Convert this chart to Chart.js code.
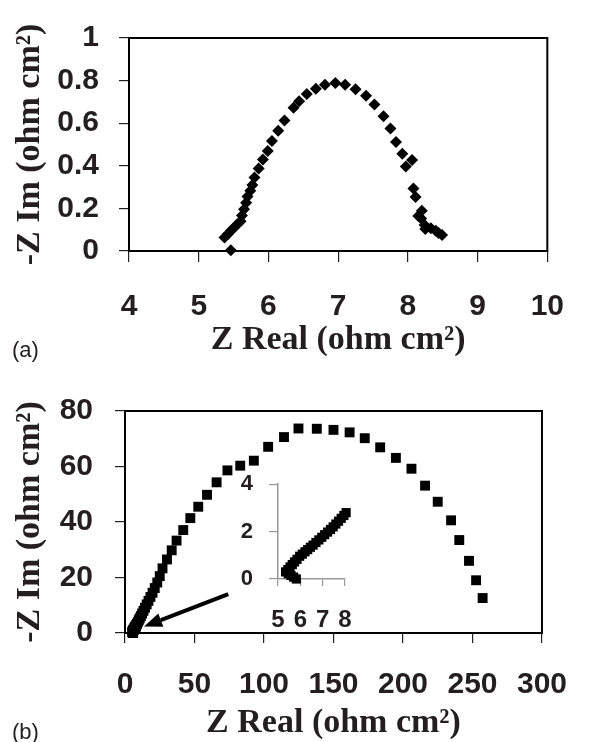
<!DOCTYPE html>
<html>
<head>
<meta charset="utf-8">
<script src="https://cdn.jsdelivr.net/npm/chart.js@4.4.1/dist/chart.umd.min.js"></script>
<style>
body { margin: 0; background: #fff; }
#wrap { position: relative; width: 591px; height: 742px; overflow: hidden; }
canvas { position: absolute; }
.tag { position: absolute; font-family: "Liberation Sans", Arial, sans-serif; font-size: 22px; line-height: 25px; color: #231f20; }
</style>
</head>
<body>
<div id="wrap">
  <canvas id="chartA" width="591" height="371" style="left:0;top:0"></canvas>
  <canvas id="chartB" width="591" height="371" style="left:0;top:371px"></canvas>
  <canvas id="inset" width="180" height="195" style="left:200px;top:455px"></canvas>
  <div class="tag" style="left:12px;top:337px">(a)</div>
  <div class="tag" style="left:12px;top:719px">(b)</div>
</div>
<script>
// (a) Nyquist points, Z real / -Z im (ohm cm2)
const aRe = [5.46, 5.37, 5.42, 5.46, 5.51, 5.55, 5.60, 5.62, 5.65, 5.68, 5.70, 5.74, 5.77, 5.80, 5.86, 5.92,
  5.99, 6.05, 6.14, 6.23, 6.36, 6.44, 6.55, 6.68, 6.81, 6.96, 7.10, 7.25, 7.40, 7.52, 7.65, 7.75,
  7.83, 7.92, 7.97, 8.06, 8.08, 8.11, 8.20, 8.15, 8.19, 8.24, 8.25, 8.33, 8.40, 8.44, 8.49];
const aIm = [0.003, 0.063, 0.08, 0.095, 0.11, 0.125, 0.14, 0.167, 0.196, 0.226, 0.256, 0.283, 0.31, 0.345, 0.387, 0.43,
  0.47, 0.517, 0.564, 0.613, 0.673, 0.703, 0.737, 0.762, 0.781, 0.789, 0.78, 0.759, 0.729, 0.688, 0.633, 0.575,
  0.512, 0.457, 0.397, 0.427, 0.293, 0.253, 0.189, 0.164, 0.152, 0.122, 0.103, 0.107, 0.095, 0.085, 0.075];

// (b) Nyquist points (the first ones are the ones seen in the inset)
const bRe = [5.82, 5.70, 5.58, 5.46, 5.34, 5.44, 5.54, 5.64, 5.74, 5.85, 5.97, 6.09, 6.21, 6.33, 6.45, 6.57,
  6.70, 6.83, 6.96, 7.09, 7.22, 7.35, 7.47, 7.59, 7.71, 7.83, 7.95, 8.05,
  8.6, 9.2, 9.9, 10.6, 11.4, 12.3, 13.3, 14.4, 15.6, 16.9, 18.3, 19.8, 21.4, 23.2, 25.0, 27.0,
  30.2, 33.6, 37.1, 41.9, 47.0, 52.7, 59.0, 65.9, 73.7, 82.9, 92.7, 103.0, 114.4, 124.8, 138.0, 150.0,
  161.6, 172.5, 183.6, 194.9, 206.1, 215.9, 225.0, 234.6, 240.5, 247.5, 252.6, 257.3];
const bIm = [0.0, 0.08, 0.15, 0.22, 0.30, 0.40, 0.51, 0.61, 0.72, 0.83, 0.96, 1.05, 1.15, 1.24, 1.34, 1.43,
  1.54, 1.65, 1.76, 1.87, 1.98, 2.09, 2.2, 2.32, 2.44, 2.56, 2.68, 2.8,
  3.3, 3.9, 4.6, 5.3, 6.1, 7.0, 8.0, 9.1, 10.3, 11.6, 13.0, 14.5, 16.2, 18.2, 20.5, 23.3,
  26.5, 29.8, 33.3, 37.1, 41.4, 45.5, 49.8, 54.3, 58.6, 60.3, 62.1, 67.1, 70.6, 73.7, 73.6, 73.2,
  72.3, 70.2, 66.9, 63.1, 59.2, 53.1, 47.3, 40.6, 33.5, 26.0, 19.0, 12.6];

// tick labels
const aXTicks = [4, 5, 6, 7, 8, 9, 10];
const aYTicks = [0, 0.2, 0.4, 0.6, 0.8, 1];
const bXTicks = [0, 50, 100, 150, 200, 250, 300];
const bYTicks = [0, 20, 40, 60, 80];
const inXTicks = [5, 6, 7, 8];
const inYTicks = [0, 2, 4];

// arrow from inset to the origin blob, in (b) data units
const arrowFrom = [74.3, 14.0];
const arrowTo = [13.7, 2.3];

const ink = '#231f20';
const sans = '"Liberation Sans", Arial, sans-serif';
const serif = '"Liberation Serif", "Times New Roman", serif';

function pts(xs, ys) {
  return xs.map((x, i) => ({ x: x, y: ys[i] }));
}

function axis(ticks, o) {
  return {
    type: 'linear',
    min: ticks[0],
    max: ticks[ticks.length - 1],
    afterBuildTicks: s => { s.ticks = ticks.map(v => ({ value: v })); },
    afterFit: s => {
      if (o.w != null) s.width = o.w;
      if (o.h != null) s.height = o.h;
    },
    grid: { display: true, drawOnChartArea: false, drawTicks: true, tickLength: o.tl, color: o.c, lineWidth: 1.2 },
    border: { display: !!o.border, color: o.c, width: 1.5 },
    ticks: {
      padding: o.pad, color: ink, autoSkip: false, maxRotation: 0,
      font: { family: sans, size: o.fs, weight: 'bold' },
      callback: v => String(v)
    },
    title: o.title ? {
      display: true, text: o.title, color: ink,
      font: { family: serif, size: 34, weight: 'bold', lineHeight: 1.1 },
      padding: o.tp
    } : { display: false }
  };
}

const boxPlugin = {
  id: 'box',
  beforeDatasetsDraw(chart) {
    const a = chart.chartArea, ctx = chart.ctx;
    ctx.save();
    ctx.strokeStyle = '#000';
    ctx.lineWidth = 2;
    ctx.strokeRect(a.left, a.top, a.right - a.left, a.bottom - a.top);
    ctx.restore();
  }
};

const arrowPlugin = {
  id: 'arrow',
  afterDatasetsDraw(chart) {
    const sx = chart.scales.x, sy = chart.scales.y, ctx = chart.ctx;
    const x0 = sx.getPixelForValue(arrowFrom[0]), y0 = sy.getPixelForValue(arrowFrom[1]);
    const x1 = sx.getPixelForValue(arrowTo[0]), y1 = sy.getPixelForValue(arrowTo[1]);
    const ang = Math.atan2(y1 - y0, x1 - x0);
    const head = 18, half = 7;
    const bx = x1 - head * Math.cos(ang), by = y1 - head * Math.sin(ang);
    ctx.save();
    ctx.strokeStyle = '#000';
    ctx.fillStyle = '#000';
    ctx.lineWidth = 4;
    ctx.beginPath();
    ctx.moveTo(x0, y0);
    ctx.lineTo(bx, by);
    ctx.stroke();
    ctx.beginPath();
    ctx.moveTo(x1, y1);
    ctx.lineTo(bx + half * Math.sin(ang), by - half * Math.cos(ang));
    ctx.lineTo(bx - half * Math.sin(ang), by + half * Math.cos(ang));
    ctx.closePath();
    ctx.fill();
    ctx.restore();
  }
};

const common = {
  responsive: false,
  animation: false,
  events: [],
  plugins: { legend: { display: false }, tooltip: { enabled: false } }
};

new Chart(document.getElementById('chartA'), {
  type: 'scatter',
  data: {
    datasets: [{
      data: pts(aRe, aIm),
      pointStyle: 'rectRot', pointRadius: 6,
      backgroundColor: '#000', borderColor: '#000', borderWidth: 0, clip: false
    }]
  },
  options: Object.assign({}, common, {
    layout: { padding: { left: 0, right: 21, top: 28, bottom: 0 } },
    scales: {
      x: axis(aXTicks, { h: 120, tl: 11, c: '#222', pad: 27, fs: 30, title: 'Z Real (ohm cm\u00b2)', tp: { top: 0, bottom: 12 } }),
      y: axis(aYTicks, { w: 129, tl: 10, c: '#222', pad: 20, fs: 30, title: '-Z Im (ohm cm\u00b2)', tp: { top: 12, bottom: 0 } })
    }
  }),
  plugins: [boxPlugin]
});

new Chart(document.getElementById('chartB'), {
  type: 'scatter',
  data: {
    datasets: [{
      data: pts(bRe, bIm),
      pointStyle: 'rect', pointRadius: 7,
      backgroundColor: '#000', borderColor: '#000', borderWidth: 0, clip: false
    }]
  },
  options: Object.assign({}, common, {
    layout: { padding: { left: 0, right: 29, top: 34, bottom: 0 } },
    scales: {
      x: axis(bXTicks, { h: 109, tl: 10, c: '#222', pad: 24, fs: 30, title: 'Z Real (ohm cm\u00b2)', tp: { top: 0, bottom: 0 } }),
      y: axis(bYTicks, { w: 125, tl: 10, c: '#222', pad: 22, fs: 30, title: '-Z Im (ohm cm\u00b2)', tp: { top: 12, bottom: 0 } })
    }
  }),
  plugins: [boxPlugin, arrowPlugin]
});

// inset: the same (b) points near the origin
const nearRe = bRe.filter(v => v <= 8.1);
const nearIm = bIm.slice(0, nearRe.length);

new Chart(document.getElementById('inset'), {
  type: 'scatter',
  data: {
    datasets: [{
      data: pts(nearRe, nearIm),
      pointStyle: 'rect', pointRadius: 6.5,
      backgroundColor: '#000', borderColor: '#000', borderWidth: 0, clip: false
    }]
  },
  options: Object.assign({}, common, {
    layout: { padding: { left: 0, right: 35, top: 23, bottom: 0 } },
    scales: {
      x: axis(inXTicks, { h: 71, tl: 7, c: '#999', pad: 20, fs: 24, border: true }),
      y: axis(inYTicks, { w: 78, tl: 9, c: '#999', pad: 16, fs: 22, border: true })
    }
  })
});
</script>
</body>
</html>
